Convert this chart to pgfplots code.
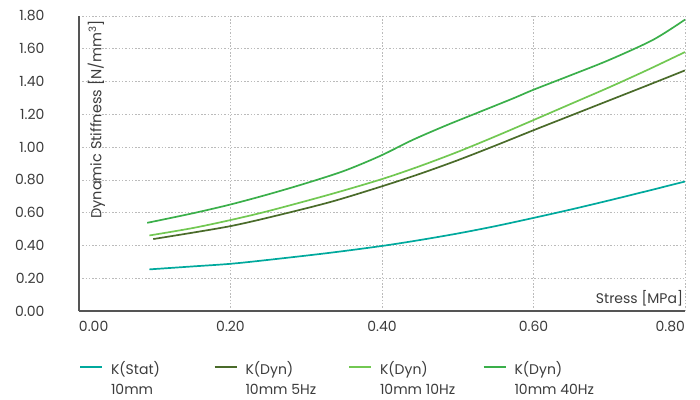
\documentclass[border=0pt]{standalone}
\usepackage{fontspec}
\setmainfont{Poppins}
\usepackage{pgfplots}
\pgfplotsset{compat=1.18}
\definecolor{cstat}{HTML}{00A99D}
\definecolor{cfive}{HTML}{4A6B2A}
\definecolor{cten}{HTML}{72C852}
\definecolor{cforty}{HTML}{3AAF4A}
\definecolor{txt}{HTML}{3C3C3C}
\definecolor{axc}{HTML}{555555}
\definecolor{grd}{HTML}{BBBBBB}
\newcommand{\lgent}[2]{\begin{tabular}[t]{@{}p{94pt}@{}}#1\\#2\end{tabular}}
\begin{document}
\begin{tikzpicture}
\path[use as bounding box] (-79pt,-88pt) rectangle (621pt,311pt);
\begin{axis}[
  at={(0pt,0pt)}, anchor=south west,
  width=606pt, height=295pt, scale only axis,
  xmin=0, xmax=0.8, ymin=0, ymax=1.8,
  axis lines=left,
  axis line style={-, draw=axc, line width=1.2pt},
  xtick={0,0.2,0.4,0.6,0.8},
  ytick={0,0.2,0.4,0.6,0.8,1.0,1.2,1.4,1.6,1.8},
  xticklabels={\makebox[0pt][l]{0.00},0.20,0.40,0.60,\makebox[0pt][r]{0.80}},
  yticklabels={0.00,0.20,0.40,0.60,0.80,1.00,1.20,1.40,1.60,1.80},
  major tick length=0pt,
  tick label style={font=\fontsize{14}{17}\selectfont, text=txt},
  yticklabel style={xshift=-31pt},
  xticklabel style={yshift=-7pt},
  grid=major,
  major grid style={draw=grd, line width=0.7pt, dash pattern=on 1.5pt off 1.8pt},
  ylabel={Dynamic Stiffness [N/mm\textsuperscript{3}]},
  ylabel style={at={(axis description cs:0.014,0.987)}, anchor=north east, rotate=0, inner sep=0pt, font=\fontsize{14.5}{17}\selectfont, text=txt},
  xlabel={Stress [MPa]},
  xlabel style={at={(axis description cs:0.997,0.027)}, anchor=base east, inner sep=0pt, font=\fontsize{14}{17}\selectfont, text=txt},
  legend columns=4,
  legend image code/.code={\draw[#1, line width=2pt] (0pt,1pt) -- (22pt,1pt);},
  legend style={at={(axis description cs:0,-0.168)}, anchor=north west, draw=none, fill=none,
    inner sep=0pt, outer sep=0pt,
    font=\fontsize{14}{20}\selectfont, text=txt,
    nodes={inner sep=0pt},
    cells={anchor=west},
    /tikz/every odd column/.append style={column sep=8pt},
    /tikz/every even column/.append style={column sep=8.5pt}},
  every axis plot/.append style={line width=1.7pt, no markers},
]
\addplot[cstat, smooth] table {
x y
0.093 0.254
0.15 0.272
0.20 0.288
0.25 0.312
0.331 0.355
0.40 0.397
0.45 0.433
0.50 0.473
0.55 0.518
0.60 0.568
0.65 0.620
0.70 0.675
0.75 0.732
0.80 0.790
};
\addlegendentry{\lgent{K(Stat)}{10mm}}
\addplot[cfive, smooth] table {
x y
0.098 0.439
0.15 0.478
0.20 0.518
0.25 0.570
0.331 0.664
0.40 0.761
0.45 0.837
0.50 0.920
0.55 1.010
0.60 1.103
0.65 1.194
0.70 1.285
0.75 1.376
0.80 1.468
};
\addlegendentry{\lgent{K(Dyn)}{10mm 5Hz}}
\addplot[cten, smooth] table {
x y
0.093 0.461
0.15 0.506
0.20 0.555
0.25 0.610
0.331 0.711
0.40 0.805
0.45 0.884
0.50 0.971
0.55 1.066
0.60 1.165
0.65 1.265
0.70 1.365
0.75 1.470
0.80 1.580
};
\addlegendentry{\lgent{K(Dyn)}{10mm 10Hz}}
\addplot[cforty, smooth] table {
x y
0.090 0.538
0.15 0.596
0.20 0.650
0.25 0.712
0.30 0.780
0.35 0.855
0.397 0.945
0.441 1.045
0.485 1.133
0.529 1.215
0.573 1.297
0.60 1.350
0.65 1.440
0.70 1.532
0.758 1.655
0.80 1.778
};
\addlegendentry{\lgent{K(Dyn)}{10mm 40Hz}}
\end{axis}
\end{tikzpicture}
\end{document}
